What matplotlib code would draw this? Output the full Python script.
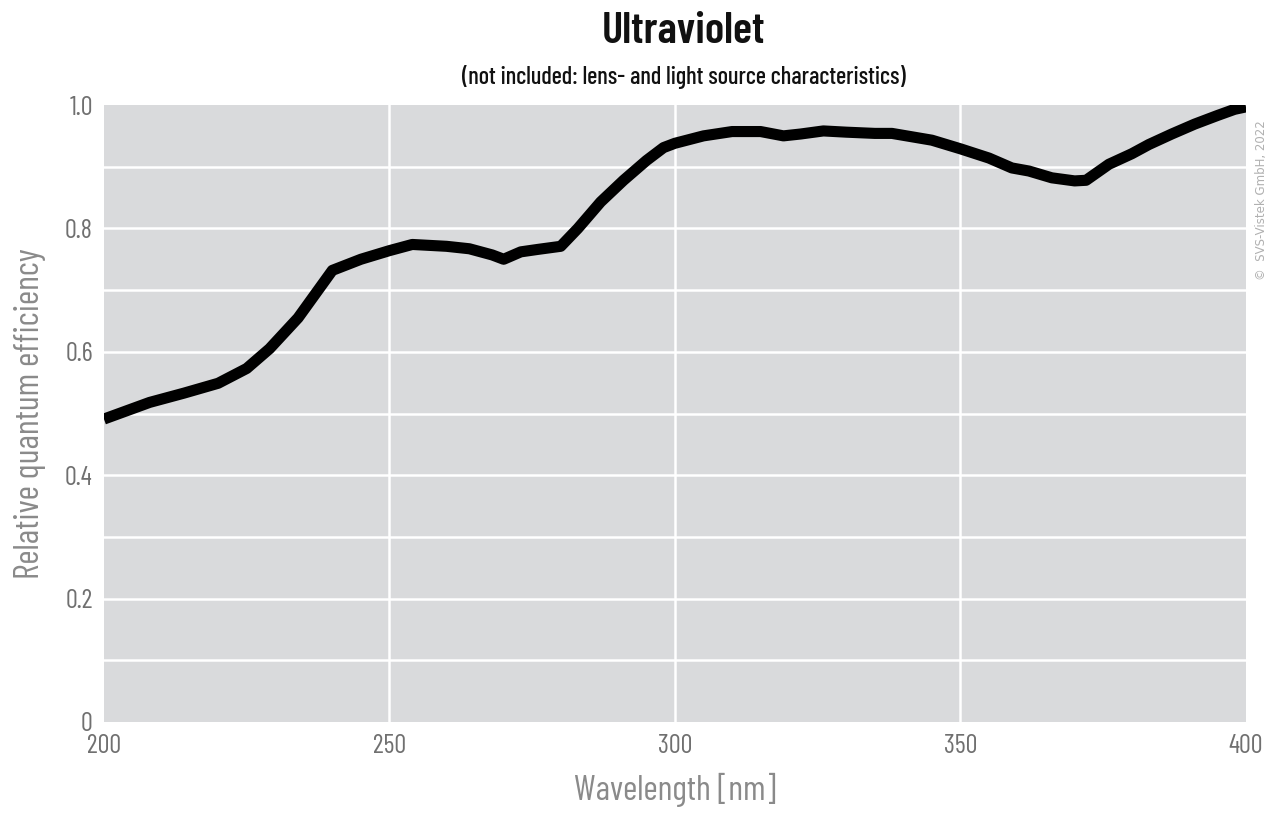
import matplotlib
matplotlib.use("Agg")
import matplotlib.pyplot as plt

wavelength = [200, 208, 214, 220, 225, 229, 234, 240, 245, 250, 254, 260, 264, 268, 270, 273, 276, 280,
              283, 287, 291, 295, 298, 300, 305, 310, 315, 319, 322, 326, 330, 335, 338, 345, 350,
              355, 359, 362, 366, 370, 372, 376, 380, 383, 387, 391, 395, 398, 400]
efficiency = [0.491, 0.518, 0.533, 0.549, 0.573, 0.605, 0.655, 0.732, 0.750, 0.764, 0.774, 0.771, 0.767,
              0.757, 0.750, 0.762, 0.766, 0.771, 0.800, 0.843, 0.878, 0.910, 0.931, 0.938, 0.950, 0.957,
              0.957, 0.950, 0.953, 0.958, 0.956, 0.954, 0.954, 0.943, 0.929, 0.914, 0.898, 0.893,
              0.882, 0.877, 0.878, 0.904, 0.921, 0.936, 0.953, 0.969, 0.983, 0.993, 0.997]

xticks = [200, 250, 300, 350, 400]
yticks = [0, 0.2, 0.4, 0.6, 0.8, 1.0]
ytick_labels = ["0", "0.2", "0.4", "0.6", "0.8", "1.0"]
yminor = [0.1, 0.3, 0.5, 0.7, 0.9]

plt.rcParams["font.family"] = ["Barlow Condensed", "DejaVu Sans"]

fig = plt.figure(figsize=(12.77, 8.16), dpi=100)
ax = fig.add_axes([0.0814, 0.1152, 0.8943, 0.7561])
ax.set_facecolor("#d9dadc")
ax.set_xlim(200, 400)
ax.set_ylim(0, 1.0)
for s in ax.spines.values():
    s.set_visible(False)

for x in xticks[1:-1]:
    ax.axvline(x, color="white", lw=1.8, zorder=1)
for y in yticks[1:-1] + yminor:
    ax.axhline(y, color="white", lw=1.8, zorder=1)

ax.plot(wavelength, efficiency, color="black", lw=8, solid_capstyle="butt", solid_joinstyle="round", zorder=3)

ax.set_xticks(xticks)
ax.set_xticklabels([str(v) for v in xticks])
ax.set_yticks(yticks)
ax.set_yticklabels(ytick_labels)
ax.tick_params(length=0, labelsize=19, labelcolor="#707070")
ax.tick_params(axis="y", pad=8)
ax.tick_params(axis="x", pad=9)

ax.set_xlabel("Wavelength [nm]", fontsize=25, color="#8a8a8a", labelpad=10)
ax.set_ylabel("Relative quantum efficiency", fontsize=25, color="#8a8a8a", labelpad=14)

fig.text(0.5355, 0.962, "Ultraviolet", ha="center", va="center", fontsize=32, fontweight="semibold", color="#111111")
fig.text(0.5355, 0.906, "(not included: lens- and light source characteristics)", ha="center", va="center",
         fontsize=17.5, fontweight="medium", color="#111111")
fig.text(0.988, 0.755, "©  SVS-Vistek GmbH, 2022", rotation=90, ha="center", va="center",
         fontsize=8.5, color="#b0b0b0", family=["DejaVu Sans"])

fig.savefig("out.png", dpi=100, facecolor="white")
